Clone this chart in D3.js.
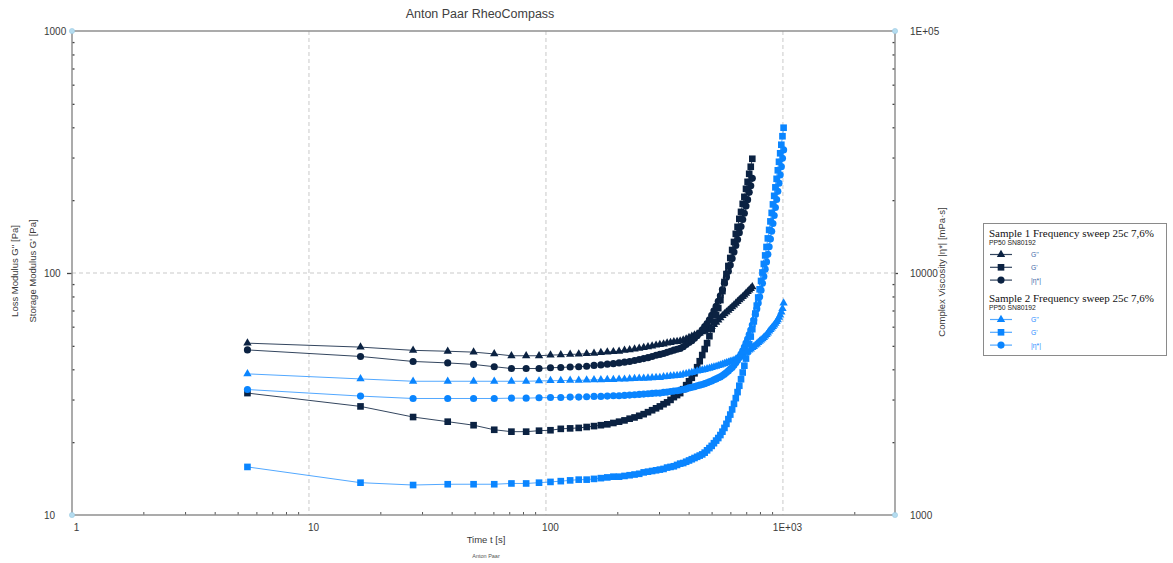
<!DOCTYPE html>
<html>
<head>
<meta charset="utf-8">
<script src="https://cdn.jsdelivr.net/npm/d3@7"></script>
<style>
  body { margin: 0; background: #fff; }
  svg { display: block; font-family: "Liberation Sans", Arial, sans-serif; }
</style>
</head>
<body>
<svg id="chart" width="1173" height="563"></svg>
<script>
// Measuring times [s]
const time1 = [5.5,16.5,27.5,38.5,49.5,60.5,71.5,82.5,93.5,104.5,115.5,126.5,137.5,148.5,159.5,170.5,181.5,192.5,203.5,214.5,225.5,236.5,247.5,258.5,269.5,280.5,291.5,302.5,313.5,324.5,335.5,346.5,357.5,368.5,379.5,390.5,401.5,412.5,423.5,434.5,445.5,456.5,467.5,478.5,489.5,500.5,511.5,522.5,533.5,544.5,555.5,566.5,577.5,588.5,599.5,610.5,621.5,632.5,643.5,654.5,665.5,676.5,687.5,698.5,709.5,720.5,731.5,742.5];
const time2 = [5.5,16.5,27.5,38.5,49.5,60.5,71.5,82.5,93.5,104.5,115.5,126.5,137.5,148.5,159.5,170.5,181.5,192.5,203.5,214.5,225.5,236.5,247.5,258.5,269.5,280.5,291.5,302.5,313.5,324.5,335.5,346.5,357.5,368.5,379.5,390.5,401.5,412.5,423.5,434.5,445.5,456.5,467.5,478.5,489.5,500.5,511.5,522.5,533.5,544.5,555.5,566.5,577.5,588.5,599.5,610.5,621.5,632.5,643.5,654.5,665.5,676.5,687.5,698.5,709.5,720.5,731.5,742.5,753.5,764.5,775.5,786.5,797.5,808.5,819.5,830.5,841.5,852.5,863.5,874.5,885.5,896.5,907.5,918.5,929.5,940.5,951.5,962.5,973.5,984.5,995.5,1006.5];

// Sample 1: loss modulus G'' [Pa], storage modulus G' [Pa], complex viscosity |eta*| [mPa·s]
const s1LossModulus = [51.3,49.4,47.9,47.5,47.1,46.3,45.5,45.5,45.5,45.8,45.9,46.1,46.2,46.4,46.6,46.9,47.1,47.3,47.5,47.9,48.1,48.5,48.8,49.2,49.5,49.9,50.3,50.6,50.9,51.3,51.6,51.9,52.1,52.3,52.8,53.4,54.1,54.7,55.4,55.9,56.4,57.1,57.7,58.4,59.1,60.0,61.2,62.5,63.9,65.2,66.6,67.8,68.9,70.1,71.3,72.5,73.7,75.0,76.2,77.5,78.6,79.8,81.1,82.4,83.7,85.0,86.3,87.7];
const s1StorageModulus = [31.9,28.1,25.4,24.3,23.5,22.5,22.1,22.1,22.3,22.4,22.7,22.8,22.9,23.1,23.3,23.5,23.7,24.0,24.3,24.6,25.0,25.3,25.7,26.1,26.6,27.1,27.6,28.1,28.7,29.2,29.9,30.7,31.3,31.9,33.1,34.4,35.7,36.9,38.5,40.8,43.2,45.8,48.5,51.3,54.8,58.6,62.7,67.0,71.6,77.3,84.2,91.8,99.0,106.9,115.4,124.5,134.4,145.1,155.1,167.4,178.9,193.1,206.4,222.8,238.1,257.0,274.8,296.5];
const s1Viscosity = [4810,4520,4310,4250,4190,4100,4030,4030,4030,4060,4070,4090,4100,4120,4150,4170,4200,4220,4250,4280,4310,4350,4390,4430,4470,4520,4570,4610,4650,4700,4750,4800,4840,4880,4960,5060,5160,5250,5370,5510,5650,5830,6000,6180,6410,6680,6970,7290,7640,8050,8540,9080,9600,10170,10790,11470,12200,13000,13750,14680,15550,16630,17650,18900,20090,21540,22920,24610];

// Sample 2
const s2LossModulus = [38.3,36.5,35.7,35.7,35.7,35.7,35.7,35.7,35.8,35.9,35.9,36.0,36.0,36.1,36.2,36.2,36.3,36.3,36.4,36.4,36.5,36.6,36.7,36.7,36.8,36.9,37.0,37.0,37.2,37.3,37.5,37.6,37.7,37.8,38.1,38.3,38.6,38.8,39.0,39.3,39.5,39.7,39.9,40.2,40.4,40.7,40.9,41.1,41.4,41.6,41.9,42.2,42.5,42.8,43.1,43.3,43.6,44.0,44.4,44.9,45.3,45.7,46.2,46.8,47.4,48.0,48.5,49.2,49.7,50.3,50.9,51.6,52.2,52.8,53.4,54.1,54.8,55.6,56.5,57.5,58.4,59.2,60.0,60.9,61.9,63.0,64.1,65.6,67.0,68.9,71.3,75.1];
const s2StorageModulus = [15.8,13.6,13.3,13.4,13.4,13.4,13.5,13.5,13.6,13.7,13.8,13.9,14.0,14.0,14.1,14.2,14.3,14.4,14.4,14.5,14.6,14.7,14.8,15.0,15.1,15.2,15.3,15.4,15.5,15.7,15.8,15.9,16.1,16.3,16.4,16.6,16.8,17.0,17.2,17.4,17.6,17.8,18.1,18.5,18.9,19.3,19.8,20.3,20.8,21.4,22.1,22.9,23.8,24.9,26.0,27.3,28.8,30.4,32.2,34.2,36.4,38.8,41.4,44.3,47.4,50.8,54.6,58.6,63.1,68.0,73.3,79.2,85.6,92.7,100.5,109.0,118.2,128.1,139.0,150.7,163.4,177.2,192.1,208.4,225.9,245.0,265.7,288.1,312.4,338.8,367.4,398.4];
const s2Viscosity = [3300,3100,3030,3030,3030,3030,3040,3040,3050,3060,3060,3070,3070,3080,3090,3090,3100,3110,3110,3120,3130,3140,3150,3160,3170,3180,3190,3190,3210,3220,3240,3250,3260,3280,3300,3320,3350,3370,3390,3420,3440,3460,3490,3520,3550,3580,3620,3650,3690,3720,3770,3820,3880,3940,4010,4070,4160,4260,4360,4490,4620,4770,4940,5130,5330,5560,5810,6090,6390,6730,7100,7520,7980,8490,9060,9680,10370,11110,11940,12840,13810,14870,16020,17280,18640,20130,21750,23510,25430,27510,29780,32260];

// Axis ticks and labels
const xMajorTicks = [1, 10, 100, 1000];
const xTickLabels = ["1", "10", "100", "1E+03"];
const yMajorTicks = [10, 100, 1000];
const yTickLabels = ["10", "100", "1000"];
const etaMajorTicks = [1000, 10000, 100000];
const etaTickLabels = ["1000", "10000", "1E+05"];

const sampleNames = ["Sample 1 Frequency sweep 25c 7,6%", "Sample 2 Frequency sweep 25c 7,6%"];
const deviceName = "PP50 SN80192";
const seriesNames = ["G''", "G'", "|\u03b7*|"];

// ---------------------------------------------------------------
const svg = d3.select("#chart");
const plotL = 72, plotR = 896, plotT = 31, plotB = 515;

const x = d3.scaleLog().domain([1, 3000]).range([plotL, plotR]);
const y = d3.scaleLog().domain([10, 1000]).range([plotB, plotT]);
const yEta = d3.scaleLog().domain([1000, 100000]).range([plotB, plotT]);

const axisColor = "#8f8f8f";
const gridColor = "#c9c9c9";
const textColor = "#3a3a3a";

const darkMark = "#0b2242";
const darkLine = "#34465f";
const blueMark = "#0a85ff";
const blueLine = "#52a8ff";

// Title
svg.append("text").attr("x", 480).attr("y", 18).attr("text-anchor", "middle")
  .attr("font-size", 12.5).attr("fill", "#404040").text("Anton Paar RheoCompass");

// Grid lines
const grid = svg.append("g");
grid.selectAll("line.vx").data([10, 100, 1000]).join("line")
  .attr("x1", d => x(d)).attr("x2", d => x(d)).attr("y1", plotT).attr("y2", plotB)
  .attr("stroke", gridColor).attr("stroke-dasharray", "4,3").attr("stroke-width", 1);
grid.selectAll("line.hy").data([100]).join("line")
  .attr("x1", plotL).attr("x2", plotR).attr("y1", d => y(d)).attr("y2", d => y(d))
  .attr("stroke", gridColor).attr("stroke-dasharray", "4,3").attr("stroke-width", 1);

// Minor tick values (2..9 of every decade)
function minorTicks(lo, hi) {
  const out = [];
  for (let dec = lo; dec < hi; dec *= 10) for (let k = 2; k <= 9; k++) if (dec * k < hi) out.push(dec * k);
  return out;
}

// Bottom axis
const xAxisMinor = d3.axisTop(x).tickValues(minorTicks(1, 3000)).tickSize(3).tickFormat("");
const gx = svg.append("g").attr("transform", `translate(0,${plotB})`).call(xAxisMinor);
const xAxisMajor = d3.axisBottom(x).tickValues(xMajorTicks).tickSize(0)
  .tickFormat((d, i) => xTickLabels[i]).tickPadding(9);
const gx2 = svg.append("g").attr("transform", `translate(0,${plotB})`).call(xAxisMajor);
[gx, gx2].forEach(g => {
  g.select(".domain").remove();
  g.selectAll("line").attr("stroke", "#555").attr("stroke-width", 1);
  g.selectAll("text").attr("font-size", 10).attr("fill", textColor)
    .attr("font-family", "Liberation Sans, Arial, sans-serif").attr("dx", 4);
});

// Left axis
const yAxisMinor = d3.axisRight(y).tickValues(minorTicks(10, 1000)).tickSize(2.5).tickFormat("");
const gy = svg.append("g").attr("transform", `translate(${plotL},0)`).call(yAxisMinor);
const yAxisMajor = d3.axisLeft(y).tickValues([100]).tickSize(5).tickFormat("");
const gy2 = svg.append("g").attr("transform", `translate(${plotL},0)`).call(yAxisMajor);
[gy, gy2].forEach(g => {
  g.select(".domain").remove();
  g.selectAll("line").attr("stroke", "#444").attr("stroke-width", 1.3);
});
svg.append("g").selectAll("text").data(yMajorTicks).join("text")
  .attr("x", 44).attr("y", d => y(d) + 3.5).attr("font-size", 10).attr("fill", textColor)
  .text((d, i) => yTickLabels[i]);

// Right axis
const etaAxisMinor = d3.axisLeft(yEta).tickValues(minorTicks(1000, 100000)).tickSize(2.5).tickFormat("");
const ge = svg.append("g").attr("transform", `translate(${plotR - 1},0)`).call(etaAxisMinor);
const etaAxisMajor = d3.axisRight(yEta).tickValues([10000]).tickSize(3).tickFormat("");
const ge2 = svg.append("g").attr("transform", `translate(${plotR - 1},0)`).call(etaAxisMajor);
[ge, ge2].forEach(g => {
  g.select(".domain").remove();
  g.selectAll("line").attr("stroke", "#444").attr("stroke-width", 1.3);
});
svg.append("g").selectAll("text").data(etaMajorTicks).join("text")
  .attr("x", 910).attr("y", d => yEta(d) + 3.5).attr("font-size", 10).attr("fill", textColor)
  .text((d, i) => etaTickLabels[i]);

// Frame lines
const frame = svg.append("g").attr("stroke", axisColor).attr("stroke-width", 1.5);
frame.append("line").attr("x1", plotL).attr("x2", plotL).attr("y1", plotT).attr("y2", plotB);
frame.append("line").attr("x1", plotR - 1).attr("x2", plotR - 1).attr("y1", plotT).attr("y2", plotB);
frame.append("line").attr("x1", plotL).attr("x2", plotR - 1).attr("y1", plotT).attr("y2", plotT);
frame.append("line").attr("x1", plotL).attr("x2", plotR - 1).attr("y1", plotB).attr("y2", plotB);

// Corner handles
const corners = [[plotL, plotT], [plotL, plotB], [plotR - 1, plotT], [plotR - 1, plotB]];
svg.append("g").selectAll("circle").data(corners).join("circle")
  .attr("cx", d => d[0]).attr("cy", d => d[1]).attr("r", 2.6)
  .attr("fill", "#b5dcef").attr("stroke", "#9ccbe3").attr("stroke-width", 0.6);

// Axis titles
svg.append("text").attr("x", 486).attr("y", 543).attr("text-anchor", "middle")
  .attr("font-size", 9.5).attr("fill", textColor).text("Time t [s]");
svg.append("text").attr("x", 486).attr("y", 558).attr("text-anchor", "middle")
  .attr("font-size", 5.5).attr("fill", "#555").text("Anton Paar");
svg.append("text").attr("transform", "translate(18,271) rotate(-90)").attr("text-anchor", "middle")
  .attr("font-size", 9.5).attr("fill", textColor).text("Loss Modulus G'' [Pa]");
svg.append("text").attr("transform", "translate(36,271) rotate(-90)").attr("text-anchor", "middle")
  .attr("font-size", 9.5).attr("fill", textColor).text("Storage Modulus G' [Pa]");
svg.append("text").attr("transform", "translate(945,272) rotate(-90)").attr("text-anchor", "middle")
  .attr("font-size", 9.5).attr("fill", textColor).text("Complex Viscosity |\u03b7*| [mPa\u00b7s]");

// Data series
const symTri = d3.symbol().type(d3.symbolTriangle).size(30)();
const symSq = d3.symbol().type(d3.symbolSquare).size(44)();
const symCirc = d3.symbol().type(d3.symbolCircle).size(40)();

function drawSeries(times, values, scale, markPath, markColor, lineColor) {
  const pts = times.map((t, i) => [x(t), scale(values[i])]);
  const g = svg.append("g");
  g.append("path").attr("d", d3.line()(pts)).attr("fill", "none")
    .attr("stroke", lineColor).attr("stroke-width", 1);
  g.selectAll("path.m").data(pts).join("path").attr("class", "m")
    .attr("transform", d => `translate(${d[0]},${d[1]})`).attr("d", markPath)
    .attr("fill", markColor);
}

drawSeries(time1, s1LossModulus, y, symTri, darkMark, darkLine);
drawSeries(time1, s1Viscosity, yEta, symCirc, darkMark, darkLine);
drawSeries(time1, s1StorageModulus, y, symSq, darkMark, darkLine);
drawSeries(time2, s2LossModulus, y, symTri, blueMark, blueLine);
drawSeries(time2, s2Viscosity, yEta, symCirc, blueMark, blueLine);
drawSeries(time2, s2StorageModulus, y, symSq, blueMark, blueLine);

// Legend
const lg = svg.append("g");
lg.append("rect").attr("x", 983.5).attr("y", 223.5).attr("width", 183).attr("height", 132)
  .attr("fill", "#fff").attr("stroke", "#8a8a8a").attr("stroke-width", 1);

const legendGroups = [
  { name: sampleNames[0], y0: 236.5, mark: darkMark, line: darkLine, label: "#3f6aa8" },
  { name: sampleNames[1], y0: 301.5, mark: blueMark, line: blueLine, label: "#1f8bff" }
];
const legendSymbols = [symTri, symSq, symCirc];
legendGroups.forEach(grp => {
  lg.append("text").attr("x", 989).attr("y", grp.y0).attr("font-size", 11)
    .attr("font-family", "Liberation Serif, Times New Roman, serif").attr("fill", "#111").text(grp.name);
  lg.append("text").attr("x", 989).attr("y", grp.y0 + 8.5).attr("font-size", 6.8)
    .attr("fill", "#222").text(deviceName);
  seriesNames.forEach((s, k) => {
    const yy = grp.y0 + 18 + k * 12.8;
    lg.append("line").attr("x1", 990).attr("x2", 1012).attr("y1", yy).attr("y2", yy)
      .attr("stroke", grp.line).attr("stroke-width", 1.2);
    lg.append("path").attr("transform", `translate(1001,${yy})`).attr("d", legendSymbols[k])
      .attr("fill", grp.mark);
    lg.append("text").attr("x", 1031).attr("y", yy + 2.5).attr("font-size", 6.8)
      .attr("fill", grp.label).text(s);
  });
});
</script>
</body>
</html>
